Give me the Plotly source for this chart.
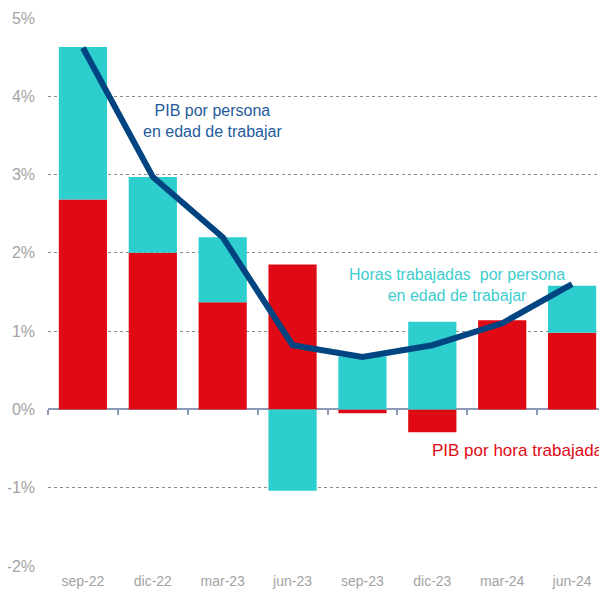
import plotly.graph_objects as go

# quarters and contributions (%)
quarters = ["sep-22", "dic-22", "mar-23", "jun-23", "sep-23", "dic-23", "mar-24", "jun-24"]
pib_hora = [2.68, 2.00, 1.37, 1.85, -0.05, -0.29, 1.14, 0.98]
horas = [1.95, 0.97, 0.83, -1.04, 0.68, 1.12, 0.0, 0.60]
pib_persona = [4.62, 2.97, 2.20, 0.82, 0.67, 0.82, 1.10, 1.60]
y_ticks = [-2, -1, 0, 1, 2, 3, 4, 5]
y_labels = ["-2%", "-1%", "0%", "1%", "2%", "3%", "4%", "5%"]

RED = "#e00a15"
CYAN = "#2ecece"
NAVY = "#004481"
GREY = "#a3a3a3"

fig = go.Figure()
fig.add_trace(go.Bar(x=quarters, y=pib_hora, marker_color=RED, width=0.69,
                     marker_line_width=0, name="PIB por hora trabajada"))
fig.add_trace(go.Bar(x=quarters, y=horas, marker_color=CYAN, width=0.69,
                     marker_line_width=0, name="Horas trabajadas"))
fig.add_trace(go.Scatter(x=quarters, y=pib_persona, mode="lines",
                         line=dict(color=NAVY, width=6), name="PIB por persona"))

# tick marks along the zero line
fig.add_trace(go.Scatter(x=quarters, y=[None] * len(quarters), xaxis="x2",
                         showlegend=False, hoverinfo="skip"))

# page body adds ~8px on the left/top, so the figure is sized a bit smaller
fig.update_layout(
    barmode="relative",
    width=599, height=581,
    margin=dict(l=40, r=0, t=10, b=23),
    plot_bgcolor="white", paper_bgcolor="white",
    showlegend=False,
    font=dict(family="Liberation Sans, Arial, sans-serif", color=GREY, size=14),
)
fig.update_yaxes(range=[-2, 5], tickvals=y_ticks, ticktext=y_labels,
                 showgrid=True, gridcolor="#8a8a8a", griddash="dot", gridwidth=1,
                 zeroline=True, zerolinecolor="#8c9bb5", zerolinewidth=2,
                 ticks="", ticklabelstandoff=12, tickfont=dict(size=16, color=GREY))
fig.update_xaxes(showgrid=False, showline=False, ticks="", ticklabelstandoff=5,
                 tickfont=dict(size=14, color=GREY))
fig.update_layout(xaxis2=dict(overlaying="x", matches="x", anchor="free",
                              position=2 / 7, side="bottom", showticklabels=False,
                              ticks="outside", tickson="boundaries", ticklen=5,
                              tickcolor="#8c9bb5", tickwidth=2, showgrid=False,
                              type="category", categoryarray=quarters))

fig.add_annotation(x=1.85, y=3.68, xref="x", yref="y",
                   text="PIB por persona<br>en edad de trabajar", showarrow=False,
                   font=dict(size=16, color="#1f5b9c"), align="center")
fig.add_annotation(x=5.35, y=1.59, xref="x", yref="y",
                   text="Horas trabajadas  por persona<br>en edad de trabajar", showarrow=False,
                   font=dict(size=16, color="#3dcdcd"), align="center")
fig.add_annotation(x=7.48, y=-0.52, xref="x", yref="y", xanchor="right",
                   text="PIB por hora trabajada", showarrow=False,
                   font=dict(size=17, color=RED))

fig.write_html("out.html")
